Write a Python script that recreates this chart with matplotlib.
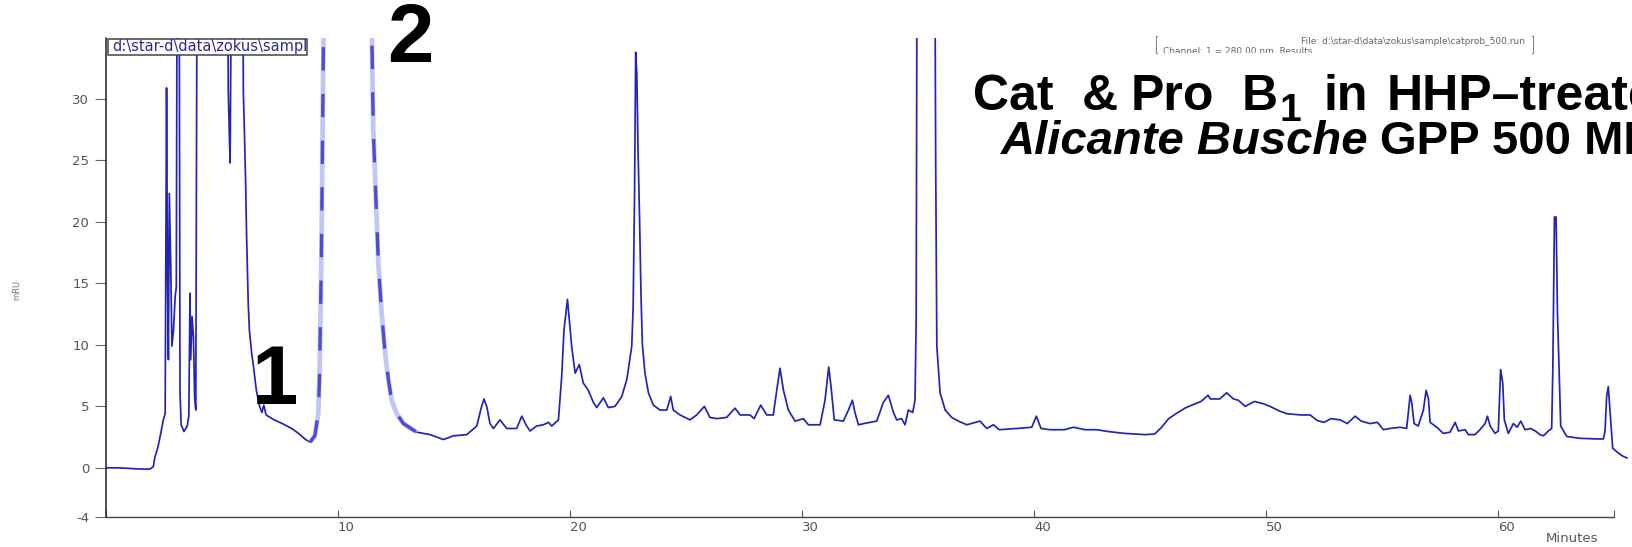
import matplotlib
matplotlib.use('Agg')
import matplotlib.pyplot as plt
import matplotlib.patches as mpatches
import numpy as np

# ── chromatogram trace (minutes, mRU) ───────────────────────────────
time_min = [
    0.0, 0.5, 1.0, 1.5, 1.9, 2.04, 2.1, 2.24, 2.36, 2.47, 2.55,
    2.61, 2.65, 2.69, 2.73, 2.79, 2.84, 2.91, 2.98, 3.03, 3.07, 3.15,
    3.19, 3.24, 3.36, 3.5, 3.57, 3.62, 3.65, 3.71, 3.77, 3.82, 3.87,
    3.93, 4.6, 5.24, 5.27, 5.31, 5.35, 5.42, 5.65, 5.89, 5.92, 5.97,
    6.02, 6.06, 6.13, 6.18, 6.28, 6.34, 6.48, 6.62, 6.72, 6.8, 6.9,
    7.25, 7.6, 8.0, 8.3, 8.6, 8.8, 9.0, 9.15, 9.2, 9.28, 9.35, 9.42,
    10.4, 11.38, 11.52, 11.74, 11.88, 12.03, 12.17, 12.31, 12.53,
    12.82, 13.39, 13.97, 14.54, 14.97, 15.55, 15.98, 16.19, 16.29,
    16.41, 16.55, 16.7, 16.98, 17.27, 17.7, 17.92, 18.13, 18.28,
    18.56, 18.85, 19.07, 19.21, 19.5, 19.64, 19.74, 19.89, 19.97,
    20.07, 20.22, 20.4, 20.57, 20.79, 21.01, 21.15, 21.44, 21.65,
    21.94, 22.23, 22.45, 22.55, 22.66, 22.72, 22.78, 22.83, 22.88,
    22.93, 23.0, 23.06, 23.12, 23.23, 23.38, 23.59, 23.88, 24.17,
    24.34, 24.45, 24.74, 25.17, 25.46, 25.79, 26.03, 26.32, 26.75,
    27.11, 27.33, 27.76, 27.93, 28.22, 28.48, 28.76, 28.91, 29.05,
    29.2, 29.41, 29.7, 30.06, 30.27, 30.78, 30.99, 31.15, 31.25,
    31.39, 31.78, 32.0, 32.17, 32.28, 32.43, 32.79, 33.22, 33.5,
    33.72, 33.94, 34.08, 34.29, 34.44, 34.58, 34.77, 34.87, 34.92,
    34.96, 35.35, 35.72, 35.76, 35.81, 35.95, 36.17, 36.45, 36.74,
    37.1, 37.67, 37.96, 38.25, 38.5, 39.25, 39.9, 40.1, 40.3, 40.7,
    41.3, 41.7, 42.2, 42.7, 43.2, 43.9, 44.8, 45.2, 45.5, 45.8, 46.2,
    46.5, 46.8, 47.2, 47.5, 47.6, 48.0, 48.3, 48.6, 48.8, 49.1, 49.5,
    49.9, 50.2, 50.6, 50.9, 51.5, 51.9, 52.2, 52.5, 52.8, 53.19,
    53.5, 53.84, 54.1, 54.48, 54.8, 55.06, 55.34, 55.78, 56.06,
    56.21, 56.28, 56.38, 56.56, 56.78, 56.9, 57.0, 57.07, 57.36,
    57.64, 57.93, 58.15, 58.29, 58.58, 58.72, 59.0, 59.22, 59.44,
    59.54, 59.66, 59.87, 60.01, 60.11, 60.2, 60.27, 60.44, 60.66,
    60.82, 60.98, 61.16, 61.4, 61.6, 61.81, 61.95, 62.17, 62.31,
    62.36, 62.43, 62.5, 62.56, 62.64, 62.7, 62.96, 63.53, 64.25,
    64.54, 64.61, 64.68, 64.75, 64.83, 64.94, 65.12, 65.33, 65.55,
]
signal_mru = [
    0.0, 0.0, -0.05, -0.1, -0.1, 0.1, 0.8, 1.7, 2.8, 3.9, 4.4,
    30.9, 15.6, 8.8, 22.3, 16.6, 9.9, 11.2, 13.9, 14.7, 45.0, 45.0,
    6.1, 3.5, 2.95, 3.4, 4.2, 14.2, 8.8, 12.3, 10.6, 5.8, 4.7,
    45.0, 60.0, 45.0, 30.7, 27.5, 24.8, 45.0, 60.0, 45.0, 30.5, 27.0,
    23.0, 18.8, 13.4, 11.2, 9.3, 8.5, 6.3, 5.0, 4.5, 5.1, 4.3,
    3.9, 3.6, 3.2, 2.8, 2.3, 2.1, 2.6, 4.4, 7.2, 16.6, 30.2, 45.0,
    60.0, 45.0, 27.5, 16.6, 12.6, 9.3, 7.2, 5.5, 4.4,
    3.6, 2.9, 2.7, 2.3, 2.6, 2.7, 3.4, 5.0, 5.6,
    5.0, 3.6, 3.2, 3.9, 3.2, 3.2, 4.2, 3.4, 3.0,
    3.4, 3.5, 3.7, 3.4, 3.9, 7.4, 11.2, 13.7, 12.0,
    9.9, 7.7, 8.4, 6.9, 6.3, 5.3, 4.9, 5.7, 4.9,
    5.0, 5.8, 7.2, 8.5, 9.9, 13.0, 22.0, 33.8, 32.0,
    26.0, 20.0, 14.0, 10.0, 7.7, 6.1, 5.1, 4.7, 4.7,
    5.8, 4.7, 4.3, 3.9, 4.3, 5.0, 4.1, 4.0, 4.1,
    4.85, 4.3, 4.3, 4.0, 5.1, 4.3, 4.3, 6.3, 8.1,
    6.3, 4.7, 3.8, 4.0, 3.5, 3.5, 5.5, 8.2, 6.6,
    3.9, 3.8, 4.7, 5.5, 4.5, 3.5, 3.65, 3.8, 5.3,
    5.9, 4.5, 3.9, 4.0, 3.5, 4.7, 4.5, 5.5, 12.3,
    45.0, 70.0, 45.0, 25.0, 9.9, 6.1, 4.7, 4.1, 3.8,
    3.5, 3.8, 3.2, 3.5, 3.1, 3.2, 3.3, 4.2, 3.2, 3.1,
    3.1, 3.3, 3.1, 3.1, 2.95, 2.8, 2.7, 2.75, 3.3, 4.0, 4.5,
    4.85, 5.1, 5.4, 5.9, 5.6, 5.6, 6.1, 5.6, 5.5, 5.0, 5.4,
    5.2, 4.97, 4.6, 4.4, 4.3, 4.3, 3.85, 3.7, 4.0, 3.9,
    3.6, 4.2, 3.8, 3.6, 3.7, 3.1, 3.2, 3.3, 3.2,
    5.9, 5.3, 3.6, 3.4, 4.7, 6.3, 5.6, 3.7, 3.3,
    2.8, 2.9, 3.7, 3.0, 3.1, 2.7, 2.7, 3.1, 3.6,
    4.2, 3.4, 2.8, 3.0, 8.0, 6.9, 3.9, 2.8, 3.6,
    3.3, 3.8, 3.1, 3.2, 3.0, 2.7, 2.6, 3.0, 3.2,
    8.0, 20.4, 20.4, 12.6, 7.2, 3.4, 2.55, 2.4, 2.35,
    2.35, 3.0, 5.8, 6.6, 4.5, 1.6, 1.3, 1.0, 0.8,
]

x_ticks = [0, 10, 20, 30, 40, 50, 60, 65]
x_labels = ['', '10', '20', '30', '40', '50', '60', '']
y_ticks = [-4, 0, 5, 10, 15, 20, 25, 30]
y_labels = ['-4', '0', '5', '10', '15', '20', '25', '30']

W, H, DPI = 1633, 547, 100
FONT = 'Liberation Sans'
LINE = '#2424b4'


def fx(px):
    return px / W


def fy(py):
    return 1 - py / H


fig = plt.figure(figsize=(W / DPI, H / DPI), dpi=DPI, facecolor='white')
ax = fig.add_axes([fx(106), fy(517), fx(1628) - fx(106), fy(37.5) - fy(517)])
ax.set_xlim(0, 65.6)
ax.set_ylim(-4, 35)

t = np.array(time_min)
s = np.array(signal_mru)

# ── trace: dark blue, peak 2 drawn pale/dashed like the scan ───────
pk = (t >= 8.8) & (t <= 13.4)
left = t <= 8.8
right = t >= 13.39
ax.plot(t[left], s[left], color=LINE, lw=1.25, zorder=3)
ax.plot(t[right], s[right], color=LINE, lw=1.25, zorder=3)
ax.plot(t[pk], s[pk], color='#c2c6f4', lw=3.4, zorder=3,
        solid_capstyle='butt')
ax.plot(t[pk], s[pk], color='#4c4cd6', lw=2.4, zorder=4,
        dashes=(7, 7))

# ── axes ──────────────────────────────────────────────────────────
for side in ('top', 'right'):
    ax.spines[side].set_visible(False)
ax.spines['left'].set_color('#222222')
ax.spines['left'].set_linewidth(1.1)
ax.spines['bottom'].set_color('#444444')
ax.spines['bottom'].set_linewidth(1.0)
ax.spines['bottom'].set_bounds(0, 65)

ax.set_yticks(y_ticks)
ax.set_yticklabels(y_labels)
ax.set_xticks(x_ticks)
ax.set_xticklabels(x_labels)
ax.tick_params(axis='y', direction='out', length=8, width=0.8,
               color='#666666', labelsize=9.5, labelcolor='#555555', pad=4)
ax.tick_params(axis='x', direction='in', length=5, width=0.8,
               color='#555555', labelsize=9.5, labelcolor='#555555', pad=3)
for lab in ax.get_xticklabels():
    lab.set_ha('left')

fig.text(fx(1572), fy(539), 'Minutes', fontsize=9.5, color='#555555',
         ha='center', va='center')
fig.text(fx(17), fy(290), 'mRU', fontsize=6, color='#777777',
         rotation=90, ha='center', va='center')

# ── little file box, top left ──────────────────────────────────────
box = mpatches.Rectangle((fx(108), fy(55)), fx(307) - fx(108),
                         fy(39) - fy(55), transform=fig.transFigure,
                         facecolor='white', edgecolor='#444444', lw=1.1,
                         zorder=5)
fig.patches.append(box)
tb = fig.text(fx(112), fy(47), r'd:\star-d\data\zokus\sample\alicante',
              fontsize=10.5, color='#2c2c90', ha='left', va='center',
              zorder=6)
tb.set_clip_path(box)

# ── clipped header strip, top right ────────────────────────────────
strip = mpatches.Rectangle((fx(1157), fy(53)), fx(1533) - fx(1157),
                           fy(37) - fy(53), transform=fig.transFigure,
                           facecolor='white', edgecolor='none', zorder=5)
fig.patches.append(strip)
for xp in (1157, 1533):
    fig.add_artist(plt.Line2D([fx(xp), fx(xp)], [fy(53), fy(37)],
                              color='#888888', lw=1.6))
h1 = fig.text(fx(1525), fy(42), r'File: d:\star-d\data\zokus\sample\catprob_500.run',
              fontsize=6.5, color='#666666', ha='right', va='center', zorder=6)
h2 = fig.text(fx(1163), fy(51), 'Channel: 1 = 280.00 nm  Results',
              fontsize=6.5, color='#666666', ha='left', va='center', zorder=6)
h1.set_clip_path(strip)
h2.set_clip_path(strip)

# ── peak numbers ──────────────────────────────────────────────────
fig.text(fx(410), fy(40), '2', fontsize=60, fontweight='bold',
         family=FONT, ha='center', va='center', color='black')
fig.text(fx(275), fy(382), '1', fontsize=60, fontweight='bold',
         family=FONT, ha='center', va='center', color='black')

# ── title (runs off the right edge as in the slide) ────────────────
base1, base2 = fy(110), fy(154)
for word, xp in [('Cat', 973), ('&', 1082), ('Pro', 1131), ('B', 1242),
                 ('in', 1324), ('HHP\u2013treated', 1387)]:
    fig.text(fx(xp), base1, word, fontsize=36, fontweight='bold',
             family=FONT, ha='left', va='baseline')
fig.text(fx(1280), base1 - 11 / H, '1', fontsize=28, fontweight='bold',
         family=FONT, ha='left', va='baseline')
fig.text(fx(1368), base2, 'Alicante Busche', fontsize=34, fontweight='bold',
         fontstyle='italic', family=FONT, ha='right', va='baseline')
fig.text(fx(1380), base2, 'GPP 500 MPa', fontsize=34, fontweight='bold',
         family=FONT, ha='left', va='baseline')

fig.savefig('out.png', dpi=DPI, facecolor='white')
